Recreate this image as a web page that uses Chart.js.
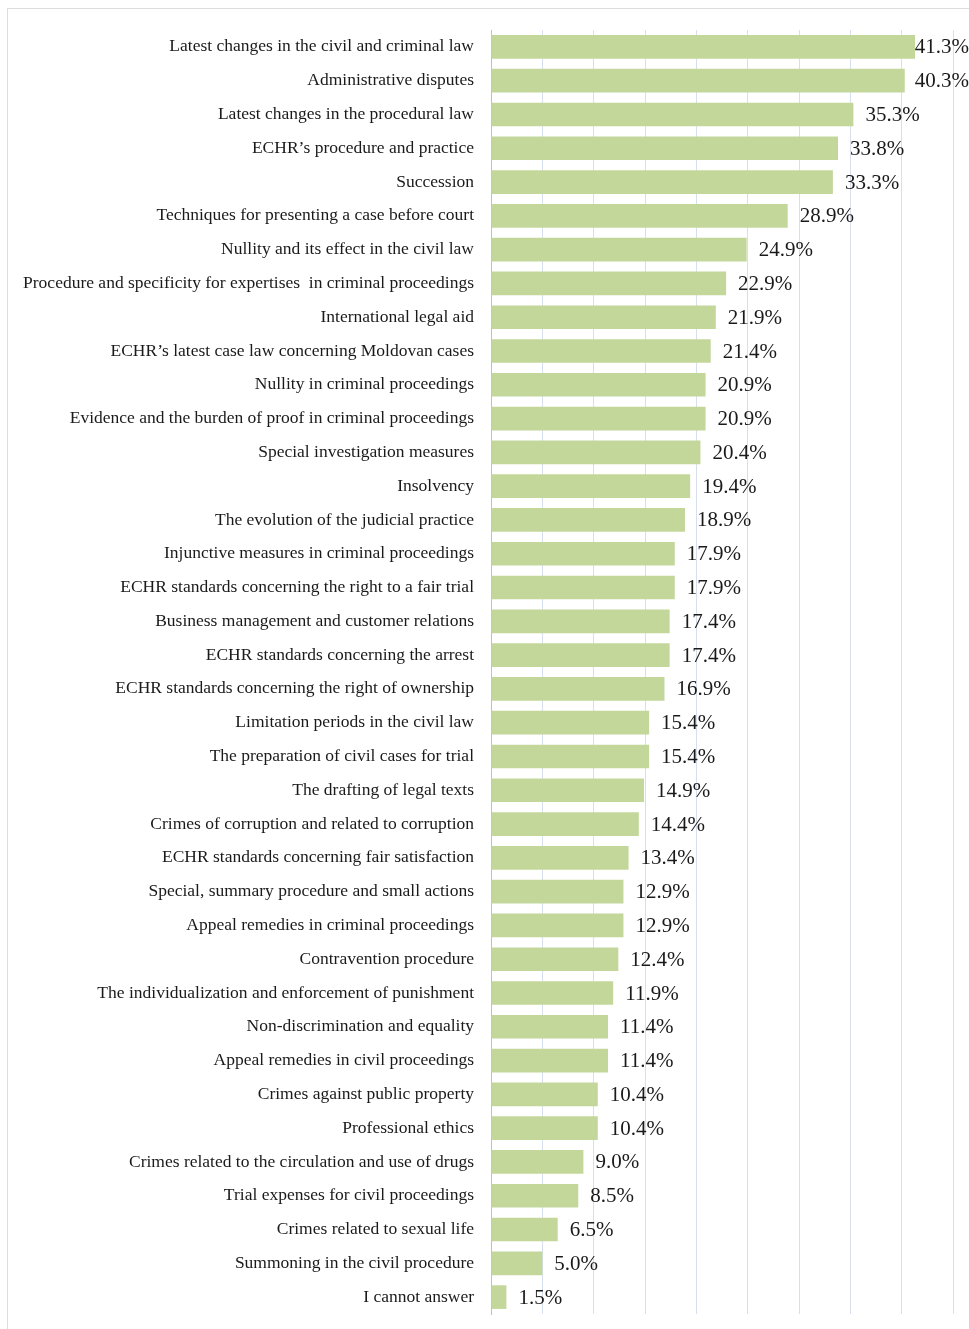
<!DOCTYPE html>
<html>
<head>
<meta charset="utf-8">
<script src="https://cdn.jsdelivr.net/npm/chart.js@4"></script>
<style>
html,body{margin:0;padding:0;background:#fff;}
canvas{display:block;}
</style>
</head>
<body>
<canvas id="c" width="969" height="1329"></canvas>
<script>
const categories = [
  "Latest changes in the civil and criminal law",
  "Administrative disputes",
  "Latest changes in the procedural law",
  "ECHR\u2019s procedure and practice",
  "Succession",
  "Techniques for presenting a case before court",
  "Nullity and its effect in the civil law",
  "Procedure and specificity for expertises  in criminal proceedings",
  "International legal aid",
  "ECHR\u2019s latest case law concerning Moldovan cases",
  "Nullity in criminal proceedings",
  "Evidence and the burden of proof in criminal proceedings",
  "Special investigation measures",
  "Insolvency",
  "The evolution of the judicial practice",
  "Injunctive measures in criminal proceedings",
  "ECHR standards concerning the right to a fair trial",
  "Business management and customer relations",
  "ECHR standards concerning the arrest",
  "ECHR standards concerning the right of ownership",
  "Limitation periods in the civil law",
  "The preparation of civil cases for trial",
  "The drafting of legal texts",
  "Crimes of corruption and related to corruption",
  "ECHR standards concerning fair satisfaction",
  "Special, summary procedure and small actions",
  "Appeal remedies in criminal proceedings",
  "Contravention procedure",
  "The individualization and enforcement of punishment",
  "Non-discrimination and equality",
  "Appeal remedies in civil proceedings",
  "Crimes against public property",
  "Professional ethics",
  "Crimes related to the circulation and use of drugs",
  "Trial expenses for civil proceedings",
  "Crimes related to sexual life",
  "Summoning in the civil procedure",
  "I cannot answer"
];
const values = [41.3, 40.3, 35.3, 33.8, 33.3, 28.9, 24.9, 22.9, 21.9, 21.4, 20.9, 20.9, 20.4, 19.4, 18.9, 17.9, 17.9, 17.4, 17.4, 16.9, 15.4, 15.4, 14.9, 14.4, 13.4, 12.9, 12.9, 12.4, 11.9, 11.4, 11.4, 10.4, 10.4, 9.0, 8.5, 6.5, 5.0, 1.5];
const xTicks = [0, 5, 10, 15, 20, 25, 30, 35, 40, 45];

const FONT = "'Liberation Serif', 'DejaVu Serif', serif";

const framePlugin = {
  id: 'frame',
  beforeDraw(chart) {
    const ctx = chart.ctx;
    ctx.save();
    ctx.fillStyle = '#ffffff';
    ctx.fillRect(0, 0, chart.width, chart.height);
    ctx.strokeStyle = '#dcdcdc';
    ctx.lineWidth = 1;
    ctx.strokeRect(7.5, 8.5, chart.width + 20, chart.height + 20);
    ctx.restore();
  }
};

const valueLabels = {
  id: 'valueLabels',
  afterDatasetsDraw(chart) {
    const ctx = chart.ctx;
    const meta = chart.getDatasetMeta(0);
    ctx.save();
    ctx.font = '21px ' + FONT;
    ctx.fillStyle = '#1a1a1a';
    ctx.textBaseline = 'middle';
    ctx.textAlign = 'left';
    meta.data.forEach((bar, i) => {
      const txt = values[i].toFixed(1) + '%';
      const w = ctx.measureText(txt).width;
      let x = bar.x + 12;
      if (x + w > chart.width) x = chart.width - w;
      ctx.fillText(txt, x, bar.y + 1);
    });
    ctx.restore();
  }
};

new Chart(document.getElementById('c'), {
  type: 'bar',
  data: {
    labels: categories,
    datasets: [{
      data: values,
      backgroundColor: '#c4d79b',
      borderWidth: 0,
      barPercentage: 0.7,
      categoryPercentage: 1.0
    }]
  },
  options: {
    indexAxis: 'y',
    responsive: false,
    animation: false,
    devicePixelRatio: 1,
    layout: { padding: { top: 30, bottom: 15, right: 16, left: 0 } },
    plugins: { legend: { display: false }, tooltip: { enabled: false } },
    scales: {
      x: {
        min: 0, max: 45,
        afterBuildTicks(scale) { scale.ticks = xTicks.map(v => ({ value: v })); },
        afterFit(scale) { scale.height = 0; scale.paddingLeft = 0; scale.paddingRight = 0; },
        ticks: { display: false },
        grid: { color: '#d6dfee', lineWidth: 1, drawTicks: false },
        border: { display: false }
      },
      y: {
        afterFit(scale) { scale.width = 491; scale.paddingTop = 0; scale.paddingBottom = 0; },
        ticks: {
          color: '#1a1a1a',
          font: { family: FONT, size: 17.5 },
          padding: 17,
          autoSkip: false
        },
        grid: { display: false, drawTicks: false },
        border: { display: true, color: '#c0c0c0', width: 1 }
      }
    }
  },
  plugins: [framePlugin, valueLabels]
});
</script>
</body>
</html>
